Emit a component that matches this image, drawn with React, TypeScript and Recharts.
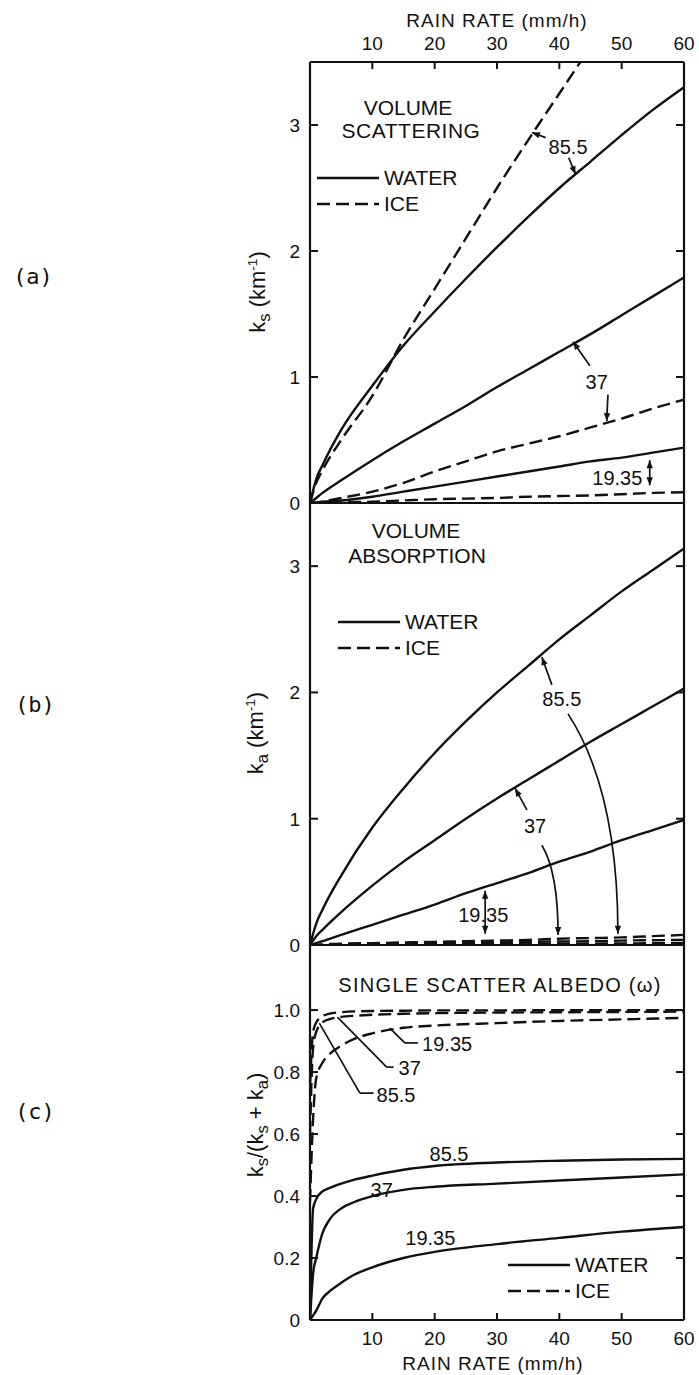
import React from "react";
import { LineChart, Line, XAxis, YAxis, ReferenceLine, ReferenceDot, Legend } from "recharts";

// rain rate (mm/h) sample points
const RATE_AB = [0, 1, 2, 5, 10, 15, 20, 25, 30, 35, 40, 45, 50, 55, 60];
const RATE_C_WATER = [0, 0.5, 1, 2, 3, 5, 7, 10, 15, 20, 30, 40, 50, 60];
const RATE_C_ICE = [0, 0.5, 1, 2, 3, 5, 7.5, 10, 15, 20, 30, 40, 50, 60];

// (a) volume scattering ks (km-1)
const SCAT_WATER_855 = [0, 0.19, 0.3, 0.58, 0.93, 1.25, 1.52, 1.78, 2.03, 2.27, 2.5, 2.71, 2.92, 3.12, 3.3];
const SCAT_ICE_855 = [0, 0.16, 0.26, 0.5, 0.85, 1.3, 1.7, 2.1, 2.5, 2.88, 3.25, 3.62];
const SCAT_WATER_37 = [0, 0.04, 0.08, 0.18, 0.34, 0.49, 0.63, 0.77, 0.92, 1.06, 1.2, 1.34, 1.49, 1.64, 1.79];
const SCAT_ICE_37 = [0, 0, 0.01, 0.04, 0.09, 0.16, 0.25, 0.33, 0.41, 0.47, 0.53, 0.6, 0.67, 0.75, 0.82];
const SCAT_WATER_1935 = [0, 0.005, 0.01, 0.02, 0.05, 0.09, 0.13, 0.17, 0.21, 0.25, 0.29, 0.33, 0.36, 0.4, 0.44];
const SCAT_ICE_1935 = [0, 0, 0, 0.005, 0.01, 0.02, 0.03, 0.035, 0.04, 0.05, 0.055, 0.06, 0.07, 0.08, 0.085];

// (b) volume absorption ka (km-1)
const ABS_WATER_855 = [0, 0.17, 0.28, 0.55, 0.93, 1.24, 1.52, 1.77, 2.0, 2.21, 2.42, 2.61, 2.8, 2.97, 3.14];
const ABS_WATER_37 = [0, 0.07, 0.12, 0.26, 0.47, 0.66, 0.83, 1.0, 1.16, 1.31, 1.46, 1.61, 1.75, 1.89, 2.03];
const ABS_WATER_1935 = [0, 0.015, 0.03, 0.08, 0.16, 0.24, 0.32, 0.41, 0.49, 0.57, 0.66, 0.74, 0.83, 0.91, 0.99];
const ABS_ICE_855 = [0, 0, 0.005, 0.01, 0.015, 0.02, 0.025, 0.03, 0.035, 0.04, 0.05, 0.055, 0.06, 0.07, 0.08];
const ABS_ICE_37 = [0, 0, 0, 0.005, 0.01, 0.012, 0.015, 0.018, 0.02, 0.025, 0.028, 0.03, 0.035, 0.038, 0.04];
const ABS_ICE_1935 = [0, 0, 0, 0, 0.002, 0.004, 0.005, 0.006, 0.008, 0.009, 0.01, 0.011, 0.012, 0.014, 0.015];

// (c) single scatter albedo
const ALB_WATER_855 = [0, 0.36, 0.39, 0.415, 0.425, 0.44, 0.452, 0.466, 0.485, 0.497, 0.508, 0.514, 0.518, 0.52];
const ALB_WATER_37 = [0, 0.15, 0.2, 0.28, 0.32, 0.36, 0.38, 0.4, 0.42, 0.43, 0.44, 0.45, 0.46, 0.47];
const ALB_WATER_1935 = [0, 0.015, 0.03, 0.07, 0.09, 0.12, 0.145, 0.17, 0.2, 0.22, 0.245, 0.265, 0.285, 0.3];
const ALB_ICE_855 = [0.75, 0.93, 0.96, 0.98, 0.988, 0.993, 0.996, 0.997, 0.998, 0.999, 0.999, 1.0, 1.0, 1.0];
const ALB_ICE_37 = [0.6, 0.88, 0.93, 0.96, 0.97, 0.978, 0.982, 0.985, 0.988, 0.99, 0.992, 0.993, 0.994, 0.995];
const ALB_ICE_1935 = [0.38, 0.65, 0.78, 0.83, 0.855, 0.885, 0.91, 0.925, 0.943, 0.95, 0.958, 0.965, 0.97, 0.975];

const X_TICKS = [10, 20, 30, 40, 50, 60];
const KS_TICKS = [0, 1, 2, 3];
const ALB_TICKS = [0, 0.2, 0.4, 0.6, 0.8, 1.0];

// frequency labels and arrows, in data units [rate, value]
const NOTES_A = [
  { text: "85.5", at: [41.4, 2.83] },
  { text: "37", at: [46, 0.96] },
  { text: "19.35", at: [49.3, 0.2] },
];
const ARROWS_A = [
  { from: [37.8, 2.9], to: [35.6, 2.94], kind: "single" },
  { from: [41.5, 2.74], to: [42.6, 2.61], kind: "single" },
  { from: [44.9, 1.09], to: [42.2, 1.28], kind: "single" },
  { from: [47.8, 0.86], to: [47.6, 0.65], kind: "single" },
  { from: [54.5, 0.34], to: [54.5, 0.14], kind: "double" },
];
const NOTES_B = [
  { text: "85.5", at: [40.4, 1.95] },
  { text: "37", at: [36.1, 0.94] },
  { text: "19.35", at: [27.8, 0.24] },
];
const ARROWS_B = [
  { from: [38.8, 2.06], to: [37.2, 2.28], kind: "single" },
  { from: [41.4, 1.83], to: [49.4, 0.09], kind: "curve", bend: 0.35 },
  { from: [34.8, 1.07], to: [32.9, 1.24], kind: "single" },
  { from: [37.2, 0.79], to: [39.8, 0.08], kind: "curve", bend: 0.3 },
  { from: [28.1, 0.43], to: [28.1, 0.09], kind: "double" },
];
const NOTES_C = [
  { text: "19.35", at: [22, 0.89] },
  { text: "37", at: [16, 0.815] },
  { text: "85.5", at: [13.8, 0.726] },
  { text: "85.5", at: [22.3, 0.535] },
  { text: "37", at: [11.5, 0.42] },
  { text: "19.35", at: [19.3, 0.265] },
];
const ARROWS_C = [
  { from: [12.8, 0.942], to: [15.2, 0.894], kind: "plain" },
  { from: [15.2, 0.894], to: [17.3, 0.894], kind: "plain" },
  { from: [4.4, 0.977], to: [12.3, 0.816], kind: "plain" },
  { from: [12.3, 0.816], to: [13.4, 0.816], kind: "plain" },
  { from: [1.5, 0.958], to: [8, 0.732], kind: "plain" },
  { from: [8, 0.732], to: [10.2, 0.732], kind: "plain" },
];

const INK = "#111";
const FONT = '"Liberation Sans", Arial, sans-serif';
const W = 699;
const PLOT_W = 374;
const DASH = "13 6";

const series = (rates: number[], vals: number[]) => vals.map((v, i) => ({ r: rates[i], v }));

function head(x: number, y: number, dx: number, dy: number) {
  const len = Math.hypot(dx, dy) || 1;
  const ux = dx / len;
  const uy = dy / len;
  const bx = x - ux * 8;
  const by = y - uy * 8;
  return `${x},${y} ${bx - uy * 3.2},${by + ux * 3.2} ${bx + uy * 3.2},${by - ux * 3.2}`;
}

const arrowShape = (kind: string, bend = 0.3) => (p: any) => {
  const { x1, y1, x2, y2 } = p;
  if (kind === "curve") {
    const cx = x2;
    const cy = y1 + bend * (y2 - y1);
    return (
      <g>
        <path d={`M${x1},${y1} Q${cx},${cy} ${x2},${y2}`} fill="none" stroke={INK} strokeWidth={1.7} />
        <polygon points={head(x2, y2, x2 - cx, y2 - cy)} fill={INK} />
      </g>
    );
  }
  return (
    <g>
      <line x1={x1} y1={y1} x2={x2} y2={y2} stroke={INK} strokeWidth={1.7} />
      {kind !== "plain" && <polygon points={head(x2, y2, x2 - x1, y2 - y1)} fill={INK} />}
      {kind === "double" && <polygon points={head(x1, y1, x1 - x2, y1 - y2)} fill={INK} />}
    </g>
  );
};

const leftTick = (fmt: (v: number) => string) => (p: any) => {
  const { x, y, payload } = p;
  return (
    <g>
      {payload.value > 0 && <line x1={x} y1={y} x2={x + 8} y2={y} stroke={INK} strokeWidth={2} />}
      {payload.value > 0 && <line x1={x + PLOT_W - 8} y1={y} x2={x + PLOT_W} y2={y} stroke={INK} strokeWidth={2} />}
      <text x={x - 10} y={y} dy="0.36em" textAnchor="end" fontSize={19} fill={INK}>
        {fmt(payload.value)}
      </text>
    </g>
  );
};

const topTick = (p: any) => {
  const { x, y, payload } = p;
  return (
    <g>
      {payload.value < 60 && <line x1={x} y1={y} x2={x} y2={y + 7} stroke={INK} strokeWidth={2} />}
      <text x={x} y={y - 19} dy="0.36em" textAnchor="middle" fontSize={19} fill={INK}>
        {payload.value}
      </text>
    </g>
  );
};

const bottomTick = (p: any) => {
  const { x, y, payload } = p;
  return (
    <g>
      {payload.value < 60 && <line x1={x} y1={y} x2={x} y2={y - 7} stroke={INK} strokeWidth={2} />}
      <text x={x} y={y + 18} dy="0.36em" textAnchor="middle" fontSize={19} fill={INK}>
        {payload.value}
      </text>
    </g>
  );
};

const KeyBox = () => (
  <div style={{ fontFamily: FONT, fontSize: 21, color: INK, lineHeight: "26px" }}>
    {[
      ["WATER", false],
      ["ICE", true],
    ].map(([t, d]) => (
      <div key={t as string} style={{ display: "flex", alignItems: "center", height: 26 }}>
        <svg width={62} height={6}>
          <line x1={0} y1={3} x2={62} y2={3} stroke={INK} strokeWidth={2.6} strokeDasharray={d ? DASH : undefined} />
        </svg>
        <span style={{ marginLeft: 5 }}>{t as string}</span>
      </div>
    ))}
  </div>
);

type Curve = { data: { r: number; v: number }[]; dashed?: boolean };

interface PanelProps {
  top: number;
  height: number;
  margin: { top: number; right: number; bottom: number; left: number };
  yMax: number;
  yTicks: number[];
  yFmt: (v: number) => string;
  xMode: "top" | "bottom" | "none";
  curves: Curve[];
  notes: { text: string; at: number[] }[];
  arrows: { from: number[]; to: number[]; kind: string; bend?: number }[];
  legendAt: [number, number];
  bottomLine?: boolean;
}

function Panel({ top, height, margin, yMax, yTicks, yFmt, xMode, curves, notes, arrows, legendAt, bottomLine }: PanelProps) {
  return (
    <div style={{ position: "absolute", left: 0, top, width: W, height }}>
      <LineChart width={W} height={height} margin={margin}>
        <XAxis
          type="number"
          dataKey="r"
          domain={[0, 60]}
          ticks={X_TICKS}
          interval={0}
          allowDataOverflow
          hide={xMode === "none"}
          orientation={xMode === "top" ? "top" : "bottom"}
          height={xMode === "none" ? 0 : 30}
          tickSize={0}
          tickMargin={0}
          tickLine={false}
          axisLine={{ stroke: INK, strokeWidth: 2.2 }}
          tick={xMode === "top" ? topTick : bottomTick}
        />
        <YAxis
          type="number"
          domain={[0, yMax]}
          ticks={yTicks}
          interval={0}
          allowDataOverflow
          width={40}
          tickSize={0}
          tickMargin={0}
          tickLine={false}
          axisLine={{ stroke: INK, strokeWidth: 2.2 }}
          tick={leftTick(yFmt)}
        />
        <ReferenceLine x={60} stroke={INK} strokeWidth={2.2} />
        {bottomLine && <ReferenceLine y={0} stroke={INK} strokeWidth={2.2} />}
        {curves.map((c, i) => (
          <Line
            key={i}
            data={c.data}
            dataKey="v"
            type="monotone"
            stroke={INK}
            strokeWidth={2.4}
            strokeDasharray={c.dashed ? DASH : undefined}
            dot={false}
            activeDot={false}
            isAnimationActive={false}
          />
        ))}
        {arrows.map((a, i) => (
          <ReferenceLine
            key={`a${i}`}
            segment={[
              { x: a.from[0], y: a.from[1] },
              { x: a.to[0], y: a.to[1] },
            ]}
            shape={arrowShape(a.kind, a.bend)}
          />
        ))}
        {notes.map((n, i) => (
          <ReferenceDot
            key={`n${i}`}
            x={n.at[0]}
            y={n.at[1]}
            r={0}
            fill="none"
            stroke="none"
            label={{ value: n.text, position: "center", fontSize: 20, fill: INK }}
          />
        ))}
        <Legend
          layout="vertical"
          align="center"
          verticalAlign="middle"
          content={() => <KeyBox />}
          wrapperStyle={{ left: legendAt[0], top: legendAt[1], right: "auto", bottom: "auto", width: "auto", margin: 0 }}
        />
      </LineChart>
    </div>
  );
}

const Sub = ({ c }: { c: string }) => (
  <span style={{ fontSize: "0.75em", position: "relative", top: "0.3em" }}>{c}</span>
);
const Sup = ({ c }: { c: string }) => (
  <span style={{ fontSize: "0.62em", position: "relative", top: "-0.6em" }}>{c}</span>
);

const Txt = ({ x, y, size = 20, rot = false, mono = false, spacing = 0, children }: any) => (
  <div
    style={{
      position: "absolute",
      left: x,
      top: y,
      transform: `translate(-50%, -50%)${rot ? " rotate(-90deg)" : ""}`,
      whiteSpace: "nowrap",
      fontSize: size,
      letterSpacing: spacing,
      fontFamily: mono ? '"DejaVu Sans Mono", monospace' : FONT,
      color: INK,
      lineHeight: 1,
    }}
  >
    {children}
  </div>
);

export default function App() {
  const fmtInt = (v: number) => String(v);
  const fmtAlb = (v: number) => (v === 0 ? "0" : v.toFixed(1));
  return (
    <div
      style={{
        position: "absolute",
        left: 0,
        top: 0,
        width: W,
        height: 1375,
        background: "#fff",
        overflow: "hidden",
        fontFamily: FONT,
      }}
    >
      <Panel
        top={0}
        height={520}
        margin={{ top: 32, right: 15, bottom: 17, left: 270 }}
        yMax={3.5}
        yTicks={KS_TICKS}
        yFmt={fmtInt}
        xMode="top"
        bottomLine
        curves={[
          { data: series(RATE_AB, SCAT_WATER_855) },
          { data: series(RATE_AB, SCAT_ICE_855), dashed: true },
          { data: series(RATE_AB, SCAT_WATER_37) },
          { data: series(RATE_AB, SCAT_ICE_37), dashed: true },
          { data: series(RATE_AB, SCAT_WATER_1935) },
          { data: series(RATE_AB, SCAT_ICE_1935), dashed: true },
        ]}
        notes={NOTES_A}
        arrows={ARROWS_A}
        legendAt={[317, 165]}
      />
      <Panel
        top={480}
        height={490}
        margin={{ top: 23, right: 15, bottom: 25, left: 270 }}
        yMax={3.5}
        yTicks={KS_TICKS}
        yFmt={fmtInt}
        xMode="none"
        bottomLine
        curves={[
          { data: series(RATE_AB, ABS_WATER_855) },
          { data: series(RATE_AB, ABS_WATER_37) },
          { data: series(RATE_AB, ABS_WATER_1935) },
          { data: series(RATE_AB, ABS_ICE_855), dashed: true },
          { data: series(RATE_AB, ABS_ICE_37), dashed: true },
          { data: series(RATE_AB, ABS_ICE_1935), dashed: true },
        ]}
        notes={NOTES_B}
        arrows={ARROWS_B}
        legendAt={[338, 129]}
      />
      <Panel
        top={930}
        height={445}
        margin={{ top: 15, right: 15, bottom: 25, left: 270 }}
        yMax={1.21}
        yTicks={ALB_TICKS}
        yFmt={fmtAlb}
        xMode="bottom"
        curves={[
          { data: series(RATE_C_WATER, ALB_WATER_855) },
          { data: series(RATE_C_WATER, ALB_WATER_37) },
          { data: series(RATE_C_WATER, ALB_WATER_1935) },
          { data: series(RATE_C_ICE, ALB_ICE_855), dashed: true },
          { data: series(RATE_C_ICE, ALB_ICE_37), dashed: true },
          { data: series(RATE_C_ICE, ALB_ICE_1935), dashed: true },
        ]}
        notes={NOTES_C}
        arrows={ARROWS_C}
        legendAt={[508, 322]}
      />

      <Txt x={497} y={20} size={19} spacing={1}>RAIN RATE (mm/h)</Txt>
      <Txt x={493} y={1363} size={19} spacing={1}>RAIN RATE (mm/h)</Txt>

      <Txt x={408} y={107} size={21}>VOLUME</Txt>
      <Txt x={411} y={130} size={21} spacing={0.5}>SCATTERING</Txt>
      <Txt x={416} y={530} size={21}>VOLUME</Txt>
      <Txt x={417} y={555} size={21}>ABSORPTION</Txt>
      <Txt x={500} y={985} size={20} spacing={1.3}>SINGLE SCATTER ALBEDO (ω)</Txt>

      <Txt x={258} y={292} size={22} rot>
        k<Sub c="s" /> (km<Sup c="-1" />)
      </Txt>
      <Txt x={256} y={733} size={22} rot>
        k<Sub c="a" /> (km<Sup c="-1" />)
      </Txt>
      <Txt x={256} y={1125} size={22} rot>
        k<Sub c="s" />/(k<Sub c="s" /> + k<Sub c="a" />)
      </Txt>

      <Txt x={33} y={277} size={22} mono>(a)</Txt>
      <Txt x={35} y={705} size={22} mono>(b)</Txt>
      <Txt x={35} y={1112} size={22} mono>(c)</Txt>
    </div>
  );
}
